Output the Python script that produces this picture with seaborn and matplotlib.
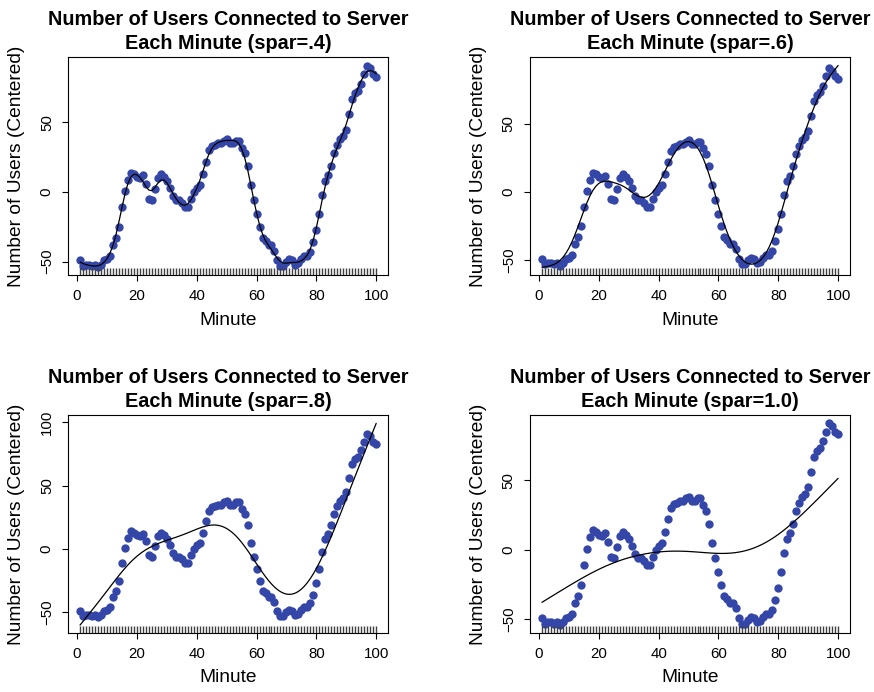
import numpy as np
import matplotlib
matplotlib.use("Agg")
import matplotlib.pyplot as plt
from matplotlib.ticker import MultipleLocator
import seaborn as sns

# users connected to the server, one value per minute
minute = np.arange(1, 101)
users = [88, 84, 85, 85, 84, 85, 83, 85, 88, 89,
         91, 99, 104, 112, 126, 138, 146, 151, 150, 148,
         147, 149, 143, 132, 131, 139, 147, 150, 148, 145,
         140, 134, 131, 131, 129, 126, 126, 132, 137, 140,
         142, 150, 159, 167, 170, 171, 172, 172, 174, 175,
         172, 172, 174, 174, 169, 165, 156, 142, 131, 121,
         112, 104, 102, 99, 99, 95, 88, 84, 84, 87,
         89, 88, 85, 86, 89, 91, 91, 94, 101, 110,
         121, 135, 145, 149, 156, 165, 171, 175, 177, 182,
         193, 204, 208, 210, 215, 222, 228, 226, 222, 220]
spars = [0.4, 0.6, 0.8, 1.0]
spar_labels = [".4", ".6", ".8", "1.0"]

y = np.array(users, float)
y = y - y.mean()


# cubic B-spline basis (Cox-de Boor)
def bspl(t, knots, deg=3):
    nb = len(knots) - 1
    B = np.zeros((len(t), nb))
    for i in range(nb):
        if knots[i] < knots[i + 1]:
            B[:, i] = (t >= knots[i]) & (t < knots[i + 1])
    last = max(i for i in range(nb) if knots[i] < knots[i + 1])
    B[t >= knots[-1], last] = 1
    for d in range(1, deg + 1):
        Bn = np.zeros((len(t), nb - d))
        for i in range(nb - d):
            a = knots[i + d] - knots[i]
            b = knots[i + d + 1] - knots[i + 1]
            if a > 0:
                Bn[:, i] += (t - knots[i]) / a * B[:, i]
            if b > 0:
                Bn[:, i] += (knots[i + d + 1] - t) / b * B[:, i + 1]
        B = Bn
    return B


# smoothing spline, same spar -> lambda rule as R's smooth.spline
def smooth_spline(x, yy, spar):
    xs = (x - x[0]) / (x[-1] - x[0])
    n = len(xs)
    a1, a2 = np.log2(50), np.log2(100)
    nk = int(2 ** (a1 + (a2 - a1) * (n - 50) / 150))
    idx = np.floor(np.linspace(1, n, nk) + 1e-9).astype(int) - 1
    knots = np.r_[[xs[0]] * 3, xs[idx], [xs[-1]] * 3]
    X = bspl(xs, knots)
    g = np.linspace(0, 1, 20001)
    d2 = np.gradient(np.gradient(bspl(g, knots), g, axis=0), g, axis=0)
    w = np.full(len(g), g[1] - g[0])
    w[[0, -1]] /= 2
    Sigma = (d2 * w[:, None]).T @ d2
    nb = X.shape[1]
    hs0 = (X ** 2).sum(0)
    ratio = hs0[2:nb - 3].sum() / np.diag(Sigma)[2:nb - 3].sum()
    lam = ratio * 256 ** (3 * spar - 1)
    coef = np.linalg.solve(X.T @ X + lam * Sigma, X.T @ yy)
    return X @ coef


sns.set_style("ticks")
plt.rcParams['font.family'] = ['Liberation Sans', 'DejaVu Sans']
plt.rcParams.update({"text.color": "black", "axes.labelcolor": "black",
                     "xtick.color": "black", "ytick.color": "black"})

fig, axes = plt.subplots(2, 2, figsize=(8.74, 6.92), dpi=100)
fig.subplots_adjust(left=0.078, right=0.9725, top=0.917, bottom=0.085,
                    wspace=0.444, hspace=0.642)

for ax, spar, lab in zip(axes.flat, spars, spar_labels):
    fit = smooth_spline(minute.astype(float), y, spar)
    sns.scatterplot(x=minute, y=y, color="#3447a8", s=36, linewidth=0, ax=ax, zorder=2)
    sns.lineplot(x=minute, y=fit, color="black", lw=0.9, ax=ax, zorder=3)
    sns.rugplot(x=minute, height=0.032, color="0.25", lw=0.6, ax=ax)

    lo = min(y.min(), fit.min())
    hi = max(y.max(), fit.max())
    pad = (hi - lo) * 0.04
    ax.set_ylim(lo - pad, hi + pad)
    ax.set_xlim(1 - 99 * 0.04, 100 + 99 * 0.04)
    ax.set_xticks([0, 20, 40, 60, 80, 100])
    ax.yaxis.set_major_locator(MultipleLocator(50))

    ax.set_title("Number of Users Connected to Server\nEach Minute (spar=%s)" % lab,
                 fontsize=14.3, fontweight="bold", pad=6, linespacing=1.32)
    ax.set_xlabel("Minute", fontsize=13.8, va="center")
    ax.set_ylabel("Number of Users (Centered)", fontsize=13.8, va="center")
    ax.xaxis.set_label_coords(0.5, -0.205)
    ax.yaxis.set_label_coords(-0.161, 0.5)

    ax.tick_params(axis="both", labelsize=10.8, length=4.3, width=0.8,
                   direction="out")
    ax.tick_params(axis="x", pad=5.5)
    ax.tick_params(axis="y", pad=6)
    for t in ax.get_yticklabels():
        t.set_rotation(90)
        t.set_va("center")
    for s in ax.spines.values():
        s.set_visible(True)
        s.set_color("black")
        s.set_linewidth(0.8)

fig.savefig("out.png", dpi=100)
